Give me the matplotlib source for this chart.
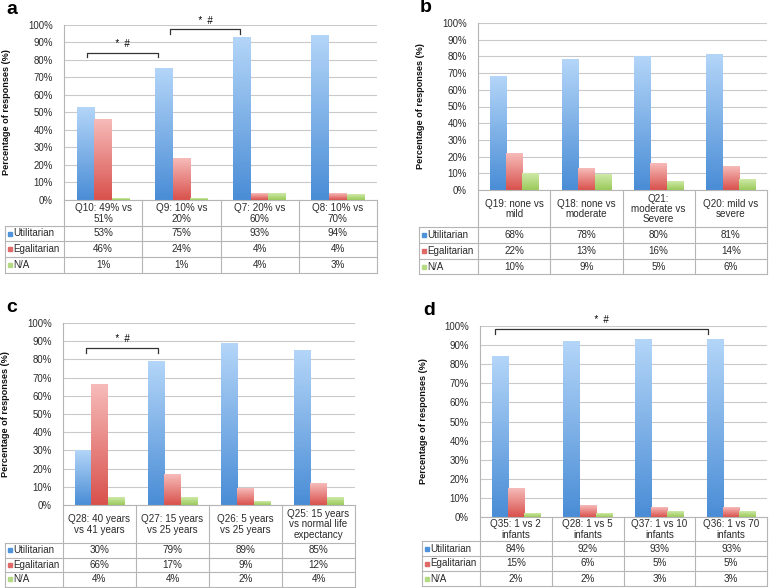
import numpy as np
import matplotlib
matplotlib.use('Agg')
import matplotlib.pyplot as plt
from matplotlib.colors import LinearSegmentedColormap

plt.rcParams['font.family'] = ['Liberation Sans', 'DejaVu Sans']

W, H = 778, 588

series = ['Utilitarian', 'Egalitarian', 'N/A']

# panel a
cats_a = ['Q10: 49% vs\n51%', 'Q9: 10% vs\n20%', 'Q7: 20% vs\n60%', 'Q8: 10% vs\n70%']
util_a = [53, 75, 93, 94]
egal_a = [46, 24, 4, 4]
na_a = [1, 1, 4, 3]

# panel b
cats_b = ['Q19: none vs\nmild', 'Q18: none vs\nmoderate', 'Q21:\nmoderate vs\nSevere', 'Q20: mild vs\nsevere']
util_b = [68, 78, 80, 81]
egal_b = [22, 13, 16, 14]
na_b = [10, 9, 5, 6]

# panel c
cats_c = ['Q28: 40 years\nvs 41 years', 'Q27: 15 years\nvs 25 years', 'Q26: 5 years\nvs 25 years',
          'Q25: 15 years\nvs normal life\nexpectancy']
util_c = [30, 79, 89, 85]
egal_c = [66, 17, 9, 12]
na_c = [4, 4, 2, 4]

# panel d
cats_d = ['Q35: 1 vs 2\ninfants', 'Q28: 1 vs 5\ninfants', 'Q37: 1 vs 10\ninfants', 'Q36: 1 vs 70\ninfants']
util_d = [84, 92, 93, 93]
egal_d = [15, 6, 5, 5]
na_d = [2, 2, 3, 3]

# significance brackets: (from, to, height)
sig_a = [(-0.2, 0.7, 84), (0.85, 1.75, 97.5)]
sig_b = []
sig_c = [(-0.18, 0.8, 86)]
sig_d = [(-0.29, 2.68, 98.4)]

# gradient colours (top, bottom) and legend key colours
grads = [('#b3d5f8', '#4a8dd6'), ('#f6bbb9', '#d9514d'), ('#cfe9a8', '#9bca5a')]
keys = ['#4f93da', '#e06a67', '#b5da86']
gridc = '#c9c9c9'
linec = '#b5b5b5'
txtc = '#2a2a2a'

fig = plt.figure(figsize=(W / 100, H / 100), dpi=100)


def px_axes(x0, y0, x1, y1):
    return fig.add_axes([x0 / W, 1 - y1 / H, (x1 - x0) / W, (y1 - y0) / H])


def draw_panel(letter, cats, vals, sigs, plot_l, plot_r, top, zero, head_b, rows_b, leg_l):
    ax = px_axes(plot_l, top, plot_r, zero)
    x = np.arange(len(cats))
    w = 0.225
    for k, v in enumerate(vals):
        bars = ax.bar(x + (k - 1) * w, v, w, color='none', linewidth=0, zorder=3)
        cmap = LinearSegmentedColormap.from_list('g%d' % k, [grads[k][1], grads[k][0]])
        for b in bars:
            bx, bw, bh = b.get_x(), b.get_width(), b.get_height()
            ax.imshow(np.linspace(1, 0, 100).reshape(-1, 1), cmap=cmap, vmin=0, vmax=1,
                      extent=[bx, bx + bw, 0, bh], aspect='auto', zorder=3, interpolation='bilinear')
    ax.set_xlim(-0.5, len(cats) - 0.5)
    ax.set_ylim(0, 100)
    ax.set_yticks(range(0, 101, 10))
    ax.set_yticklabels(['%d%%' % t for t in range(0, 101, 10)], fontsize=6.9, color=txtc)
    ax.tick_params(axis='y', length=0, pad=8)
    ax.set_xticks([])
    ax.grid(axis='y', color=gridc, linewidth=0.8, zorder=0)
    for s in ['top', 'right', 'bottom']:
        ax.spines[s].set_visible(False)
    ax.spines['left'].set_color(linec)
    ax.spines['left'].set_linewidth(0.8)

    for (s0, s1, h) in sigs:
        ax.plot([s0, s0, s1, s1], [h - 2.5, h, h, h - 2.5], color='#333333', lw=0.9,
                clip_on=False, zorder=5)
        ax.text((s0 + s1) / 2, h + 2.2, '*  #', ha='center', va='bottom', fontsize=7,
                style='italic', clip_on=False)

    fig.text((plot_l - 57) / W, 1 - (top + zero) / 2 / H,
             'Percentage of responses (%)', rotation=90, ha='center', va='center',
             fontsize=6.6, fontweight='bold', color='#111111')
    fig.text((leg_l + 1) / W, 1 - (top - 7) / H, letter, fontsize=14, fontweight='bold',
             ha='left', va='bottom')

    # table under the bars
    tb = px_axes(leg_l, zero, plot_r, rows_b[-1])
    tb.set_xlim(leg_l, plot_r)
    tb.set_ylim(rows_b[-1], zero)
    tb.axis('off')
    n = len(cats)
    cw = (plot_r - plot_l) / n
    kw = dict(color=linec, lw=0.8, clip_on=False)
    tb.plot([plot_l, plot_r], [zero, zero], **kw)
    for i in range(n + 1):
        tb.plot([plot_l + i * cw] * 2, [zero, rows_b[-1]], **kw)
    tb.plot([leg_l, leg_l], [head_b, rows_b[-1]], **kw)
    for yb in [head_b] + list(rows_b):
        tb.plot([leg_l, plot_r], [yb, yb], **kw)
    for i, c in enumerate(cats):
        tb.text(plot_l + (i + 0.5) * cw, (zero + head_b) / 2 + 0.5, c, ha='center', va='center',
                fontsize=7.1, linespacing=1.05, color=txtc)
    tops = [head_b] + list(rows_b[:-1])
    for k, v in enumerate(vals):
        yc = (tops[k] + rows_b[k]) / 2
        tb.plot([leg_l + 4.5], [yc], marker='s', ms=2.8, color=keys[k], clip_on=False)
        tb.text(leg_l + 8, yc, series[k], ha='left', va='center', fontsize=7.1, color=txtc)
        for i in range(n):
            tb.text(plot_l + (i + 0.5) * cw, yc, '%d%%' % v[i], ha='center', va='center',
                    fontsize=7.1, color=txtc)


draw_panel('a', cats_a, [util_a, egal_a, na_a], sig_a, 64, 377, 25, 200, 226, [241, 257, 273], 5)
draw_panel('b', cats_b, [util_b, egal_b, na_b], sig_b, 478, 767, 23, 190, 227, [243, 259, 274], 419)
draw_panel('c', cats_c, [util_c, egal_c, na_c], sig_c, 63, 355, 323, 505, 543, [558, 572, 587], 5)
draw_panel('d', cats_d, [util_d, egal_d, na_d], sig_d, 480, 767, 326, 517, 541, [556, 571, 586], 422)

fig.savefig('out.png', dpi=100)
